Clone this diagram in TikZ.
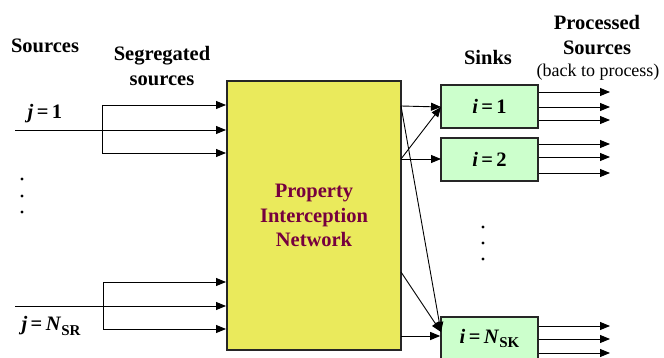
\documentclass[tikz,border=0pt]{standalone}
\usepackage{fontspec}
\setmainfont{Liberation Serif}
\usetikzlibrary{arrows.meta}
\usepackage{xcolor}
\definecolor{pinyellow}{RGB}{234,234,92}
\definecolor{sinkgreen}{RGB}{204,255,204}
\definecolor{pinred}{RGB}{118,0,62}
\newcommand{\bigtxt}{\fontsize{20.5}{24.5}\selectfont\bfseries}
\newcommand{\lowsub}[1]{\raisebox{-0.45ex}{\fontsize{15}{15}\selectfont\bfseries #1}}

\begin{document}
\begin{tikzpicture}[x=1pt,y=-1pt,->,>={Triangle[length=10pt,width=8pt]},line width=0.9pt,font=\bigtxt]
  \tikzstyle{pin box}=[draw=black!85,line width=2pt,fill=pinyellow,text=pinred,minimum width=174pt,minimum height=269pt,inner sep=0pt,align=center]
  \tikzstyle{sink}=[draw=black!85,line width=1.6pt,fill=sinkgreen,minimum width=97pt,minimum height=43pt,inner sep=0pt]
  \tikzstyle{dot}=[circle,fill=black,draw=none,inner sep=0pt,minimum size=3.2pt]
  \tikzstyle{title}=[align=center,inner sep=0pt]

  \clip (0,0) rectangle (664,358);

  % boxes
  \node[pin box] (PIN) at (314,215.5) {Property\\Interception\\Network};
  \node[sink]    (S1)  at (489.5,106.5) {\textit{i}\,=\,1};
  \node[sink]    (S2)  at (489.5,159.5) {\textit{i}\,=\,2};
  \node[sink]    (SN)  at (489.5,338.5) {\textit{i}\,=\,\textit{N}\lowsub{SK}};

  % headings
  \node[title] (srcT)  at (45,46)   {Sources};
  \node[title] (segT)  at (162,66)  {Segregated\\sources};
  \node[title] (sinkT) at (488,57)  {Sinks};
  \node[title] (procT) at (597,35)  {Processed\\Sources};
  \node[title,font=\fontsize{18}{20}\selectfont] (backT) at (598,72) {(back to process)};
  \node[title] (j1)  at (45,114) {\textit{j}\,=\,1};
  \node[title] (jN)  at (51,326) {\textit{j}\,=\,\textit{N}\lowsub{SR}};

  % dots
  \node[dot] (ld1) at (22,179) {};
  \node[dot] (ld2) at (22,196) {};
  \node[dot] (ld3) at (22,212) {};
  \node[dot] (rd1) at (483,227) {};
  \node[dot] (rd2) at (483,243) {};
  \node[dot] (rd3) at (483,259) {};

  % sources split into segregated sources
  \coordinate (src1) at (15,130);
  \coordinate (f1a) at (102,105);
  \coordinate (f1b) at (102,153);
  \coordinate (srcN) at (15,306);
  \coordinate (fNa) at (103,282);
  \coordinate (fNb) at (103,329);

  \draw (src1) -- (src1 -| PIN.west);
  \draw[-] (f1a) -- (f1b);
  \draw (f1a) -- (f1a -| PIN.west);
  \draw (f1b) -- (f1b -| PIN.west);
  \draw (srcN) -- (srcN -| PIN.west);
  \draw[-] (fNa) -- (fNb);
  \draw (fNa) -- (fNa -| PIN.west);
  \draw (fNb) -- (fNb -| PIN.west);

  % network to sinks
  \coordinate (p1) at (401,106);
  \coordinate (p2) at (401,159);
  \coordinate (p3) at (401,272);
  \coordinate (p4) at (401,336);
  \coordinate (s1in) at (441,107);
  \coordinate (s2in) at (441,159);
  \coordinate (sNin) at (441,332);

  \draw (p1) -- (s1in);
  \draw (p2) -- (s1in);
  \draw (p2) -- (s2in);
  \draw (p1) -- (sNin);
  \draw (p3) -- (sNin);
  \draw (p4) -- (p4 -| SN.west);

  % processed sources
  \coordinate (o1a) at (610,92);
  \coordinate (o1b) at (610,107);
  \coordinate (o1c) at (610,120);
  \coordinate (o2a) at (610,144);
  \coordinate (o2b) at (610,157);
  \coordinate (o2c) at (610,173);
  \coordinate (oNa) at (610,326);
  \coordinate (oNb) at (610,339);
  \coordinate (oNc) at (610,353);

  \draw (S1.east |- o1a) -- (o1a);
  \draw (S1.east |- o1b) -- (o1b);
  \draw (S1.east |- o1c) -- (o1c);
  \draw (S2.east |- o2a) -- (o2a);
  \draw (S2.east |- o2b) -- (o2b);
  \draw (S2.east |- o2c) -- (o2c);
  \draw (SN.east |- oNa) -- (oNa);
  \draw (SN.east |- oNb) -- (oNb);
  \draw (SN.east |- oNc) -- (oNc);
\end{tikzpicture}
\end{document}
